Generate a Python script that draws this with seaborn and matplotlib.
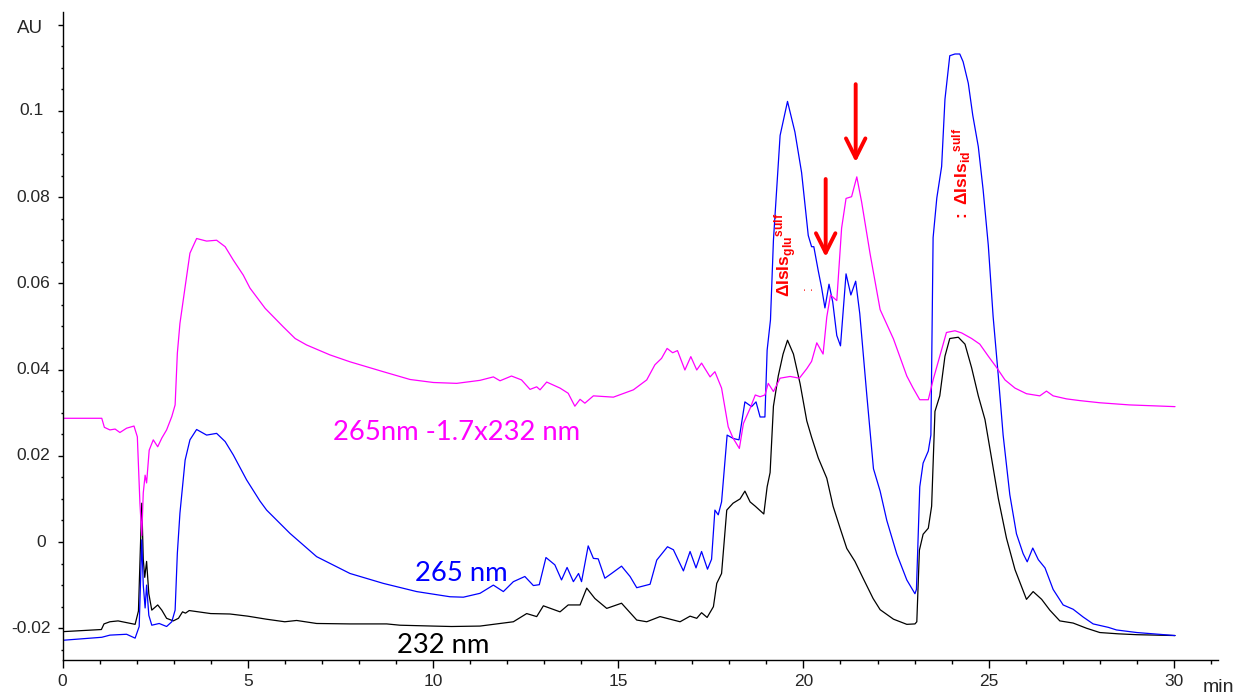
import numpy as np
import pandas as pd
import matplotlib
matplotlib.use("Agg")
import matplotlib.pyplot as plt
import matplotlib.transforms as mtransforms
import seaborn as sns
from matplotlib.ticker import MultipleLocator, FixedLocator, FixedFormatter, NullFormatter

sns.set_style("ticks")
plt.rcParams['font.family'] = ['Liberation Sans', 'DejaVu Sans']
plt.rcParams['mathtext.fontset'] = 'custom'
plt.rcParams['mathtext.rm'] = 'Liberation Sans'
plt.rcParams['mathtext.bf'] = 'Liberation Sans:bold'
plt.rcParams['mathtext.it'] = 'Liberation Sans:italic'

# ---- data: (time [min], absorbance [AU]) ----
trace_232 = [
    (0, -0.0208), (1.05, -0.0203), (1.12, -0.0190), (1.28, -0.0185), (1.5, -0.0183),
    (1.73, -0.0187), (1.96, -0.0191), (2.05, -0.0160), (2.1, -0.0020), (2.14, 0.0090),
    (2.18, -0.0040), (2.22, -0.0082), (2.27, -0.0045), (2.33, -0.0120), (2.41, -0.0158),
    (2.57, -0.0146), (2.68, -0.0158), (2.81, -0.0177), (2.99, -0.0183), (3.13, -0.0177),
    (3.24, -0.0162), (3.32, -0.0165), (3.42, -0.0159), (4.0, -0.0166), (4.52, -0.0167),
    (5.0, -0.0172), (5.5, -0.0179), (6.0, -0.0185), (6.32, -0.0182), (6.86, -0.0189),
    (7.76, -0.0190), (8.75, -0.0190), (9.11, -0.0193), (10.0, -0.0195), (10.5, -0.0196),
    (11.27, -0.0195), (12.17, -0.0185), (12.53, -0.0166), (12.8, -0.0173), (12.98, -0.0148),
    (13.43, -0.0162), (13.65, -0.0146), (13.97, -0.0146), (14.15, -0.0107), (14.37, -0.0131),
    (14.69, -0.0154), (15.09, -0.0142), (15.5, -0.0181), (15.77, -0.0185), (16.13, -0.0173),
    (16.67, -0.0185), (16.94, -0.0172), (17.12, -0.0177), (17.25, -0.0164), (17.4, -0.0175),
    (17.57, -0.0150), (17.66, -0.0096), (17.79, -0.0073), (17.93, 0.0074), (18.1, 0.0090),
    (18.29, 0.0100), (18.42, 0.0118), (18.56, 0.0093), (18.7, 0.0083), (18.93, 0.0065),
    (19.02, 0.0128), (19.1, 0.0161), (19.19, 0.0315), (19.32, 0.0385), (19.45, 0.0436),
    (19.57, 0.0468), (19.73, 0.0436), (19.91, 0.0367), (20.09, 0.0281), (20.22, 0.0243),
    (20.4, 0.0195), (20.63, 0.0148), (20.8, 0.0083), (20.99, 0.0032), (21.17, -0.0015),
    (21.39, -0.0045), (21.61, -0.0084), (21.88, -0.0131), (22.07, -0.0157), (22.43, -0.0179),
    (22.79, -0.0191), (23.01, -0.0190), (23.06, -0.0185), (23.13, -0.0019), (23.23, 0.0018),
    (23.37, 0.0032), (23.46, 0.0083), (23.55, 0.0303), (23.68, 0.0339), (23.82, 0.0431),
    (23.95, 0.0472), (24.18, 0.0475), (24.36, 0.0459), (24.54, 0.0404), (24.72, 0.0339),
    (24.9, 0.0284), (25.08, 0.0193), (25.26, 0.0101), (25.48, 0.0009), (25.71, -0.0064),
    (26.02, -0.0133), (26.2, -0.0115), (26.43, -0.0133), (26.65, -0.0158), (26.92, -0.0183),
    (27.28, -0.0188), (27.64, -0.0200), (28.0, -0.0210), (28.5, -0.0213), (29.0, -0.0215),
    (30.03, -0.0217),
]

trace_265 = [
    (0, -0.0228), (1.06, -0.0221), (1.28, -0.0216), (1.73, -0.0214), (1.96, -0.0223),
    (2.07, -0.0196), (2.11, -0.0080), (2.14, 0.0005), (2.18, -0.0100), (2.23, -0.0153),
    (2.27, -0.0100), (2.33, -0.0170), (2.41, -0.0193), (2.61, -0.0189), (2.81, -0.0196),
    (2.95, -0.0185), (3.04, -0.0158), (3.1, -0.0026), (3.17, 0.0067), (3.31, 0.0190),
    (3.44, 0.0237), (3.62, 0.0261), (3.89, 0.0248), (4.16, 0.0252), (4.39, 0.0233),
    (4.61, 0.0202), (4.97, 0.0144), (5.33, 0.0095), (5.51, 0.0074), (6.14, 0.0020),
    (6.86, -0.0034), (7.76, -0.0073), (8.66, -0.0096), (9.56, -0.0115), (10.46, -0.0127),
    (10.82, -0.0128), (11.27, -0.0119), (11.63, -0.0100), (11.9, -0.0115), (12.17, -0.0092),
    (12.48, -0.0080), (12.71, -0.0101), (12.87, -0.0099), (13.05, -0.0036), (13.29, -0.0053),
    (13.47, -0.0088), (13.62, -0.0059), (13.79, -0.0092), (13.93, -0.0073), (14.01, -0.0092),
    (14.19, -0.0009), (14.33, -0.0038), (14.46, -0.0039), (14.64, -0.0084), (14.82, -0.0073),
    (15.09, -0.0056), (15.32, -0.0080), (15.5, -0.0106), (15.86, -0.0098), (16.04, -0.0042),
    (16.33, -0.0011), (16.49, -0.0018), (16.76, -0.0067), (16.94, -0.0022), (17.1, -0.0060),
    (17.25, -0.0022), (17.41, -0.0063), (17.52, -0.0040), (17.61, 0.0074), (17.7, 0.0063),
    (17.79, 0.0093), (17.94, 0.0248), (18.11, 0.0240), (18.26, 0.0237), (18.42, 0.0325),
    (18.6, 0.0314), (18.72, 0.0325), (18.83, 0.0290), (18.96, 0.0290), (19.02, 0.0445),
    (19.11, 0.0515), (19.19, 0.0700), (19.37, 0.0943), (19.57, 0.1022), (19.77, 0.0951),
    (19.95, 0.0857), (20.13, 0.0711), (20.22, 0.0685), (20.28, 0.0685), (20.4, 0.0629),
    (20.49, 0.0590), (20.58, 0.0543), (20.69, 0.0598), (20.79, 0.0557), (20.9, 0.0479),
    (21.0, 0.0455), (21.15, 0.0622), (21.28, 0.0573), (21.41, 0.0605), (21.52, 0.0530),
    (21.71, 0.0341), (21.89, 0.0170), (22.07, 0.0118), (22.25, 0.0050), (22.52, -0.0028),
    (22.79, -0.0088), (23.01, -0.0120), (23.05, -0.0110), (23.14, 0.0128), (23.23, 0.0183),
    (23.37, 0.0211), (23.44, 0.0248), (23.5, 0.0706), (23.6, 0.0798), (23.73, 0.0871),
    (23.82, 0.1027), (23.95, 0.1128), (24.09, 0.1132), (24.22, 0.1132), (24.31, 0.1114),
    (24.45, 0.1064), (24.57, 0.0990), (24.72, 0.0917), (24.85, 0.0817), (24.99, 0.0688),
    (25.12, 0.0523), (25.26, 0.0385), (25.39, 0.0248), (25.57, 0.0110), (25.75, 0.0019),
    (25.93, -0.0027), (26.04, -0.0046), (26.19, -0.0014), (26.34, -0.0041), (26.52, -0.0060),
    (26.74, -0.0110), (27.01, -0.0146), (27.28, -0.0156), (27.55, -0.0174), (27.82, -0.0190),
    (28.23, -0.0198), (28.45, -0.0204), (29.0, -0.0210), (30.03, -0.0217),
]

trace_diff = [
    (0, 0.0287), (1.06, 0.0287), (1.13, 0.0266), (1.28, 0.0260), (1.42, 0.0262),
    (1.55, 0.0254), (1.73, 0.0264), (1.93, 0.0269), (2.02, 0.0244), (2.09, 0.0090),
    (2.14, 0.0015), (2.18, 0.0114), (2.23, 0.0155), (2.27, 0.0137), (2.34, 0.0213),
    (2.45, 0.0237), (2.57, 0.0221), (2.68, 0.0241), (2.81, 0.0260), (2.95, 0.0291),
    (3.04, 0.0318), (3.1, 0.0438), (3.17, 0.0507), (3.31, 0.0592), (3.44, 0.0670),
    (3.62, 0.0704), (3.89, 0.0698), (4.16, 0.0700), (4.39, 0.0685), (4.61, 0.0654),
    (4.88, 0.0619), (5.06, 0.0589), (5.47, 0.0542), (5.96, 0.0499), (6.28, 0.0472),
    (6.59, 0.0457), (7.22, 0.0434), (7.76, 0.0418), (8.66, 0.0395), (9.38, 0.0377),
    (10.01, 0.0370), (10.64, 0.0368), (11.27, 0.0375), (11.63, 0.0383), (11.81, 0.0374),
    (12.12, 0.0385), (12.39, 0.0376), (12.62, 0.0354), (12.8, 0.0360), (12.89, 0.0353),
    (13.07, 0.0371), (13.43, 0.0357), (13.65, 0.0345), (13.83, 0.0315), (13.97, 0.0331),
    (14.1, 0.0322), (14.33, 0.0339), (14.87, 0.0336), (15.41, 0.0353), (15.77, 0.0376),
    (15.99, 0.0411), (16.17, 0.0426), (16.32, 0.0449), (16.47, 0.0439), (16.6, 0.0444),
    (16.8, 0.0399), (16.96, 0.0430), (17.12, 0.0399), (17.25, 0.0415), (17.48, 0.0383),
    (17.61, 0.0395), (17.79, 0.0357), (17.97, 0.0267), (18.1, 0.0241), (18.27, 0.0217),
    (18.38, 0.0275), (18.56, 0.0310), (18.7, 0.0341), (18.83, 0.0337), (18.96, 0.0341),
    (19.05, 0.0368), (19.19, 0.0349), (19.37, 0.0380), (19.64, 0.0384), (19.89, 0.0380),
    (20.09, 0.0402), (20.22, 0.0419), (20.36, 0.0462), (20.53, 0.0436), (20.63, 0.0522),
    (20.73, 0.0573), (20.9, 0.0560), (21.03, 0.0728), (21.15, 0.0797), (21.3, 0.0801),
    (21.44, 0.0847), (21.57, 0.0789), (21.8, 0.0668), (22.07, 0.0539), (22.43, 0.0471),
    (22.79, 0.0385), (22.96, 0.0357), (23.14, 0.0330), (23.37, 0.0330), (23.5, 0.0376),
    (23.68, 0.0431), (23.86, 0.0486), (24.09, 0.0490), (24.27, 0.0485), (24.54, 0.0472),
    (24.76, 0.0459), (24.99, 0.0431), (25.22, 0.0404), (25.44, 0.0376), (25.71, 0.0357),
    (26.02, 0.0344), (26.38, 0.0339), (26.56, 0.0350), (26.74, 0.0339), (27.1, 0.0332),
    (27.46, 0.0328), (28.0, 0.0323), (28.8, 0.0318), (30.03, 0.0314),
]

y_tick_values = [-0.02, 0.0, 0.02, 0.04, 0.06, 0.08, 0.10, 0.12]
y_tick_labels = ['-0.02', '0', '0.02', '0.04', '0.06', '0.08', '0.1', 'AU']
x_tick_values = [0, 5, 10, 15, 20, 25, 30]
x_tick_labels = ['0', '5', '10', '15', '20', '25', '30']

# arrows (x, y_start, y_tip)
arrows = [(20.6, 0.0842, 0.0661), (21.41, 0.1062, 0.0881)]

series = [
    ("232 nm", trace_232, "black"),
    ("265 nm", trace_265, "#0000FF"),
    ("265nm -1.7x232 nm", trace_diff, "#FF00FF"),
]

W, H = 1241, 696
fig = plt.figure(figsize=(W / 100, H / 100), dpi=100)
ax = fig.add_axes([62.5 / W, 36 / H, (1218 - 62.5) / W, (660 - 12) / H])

for name, pts, col in series:
    df = pd.DataFrame(pts, columns=["t", "v"])
    sns.lineplot(data=df, x="t", y="v", color=col, lw=0.9, ax=ax,
                 estimator=None, sort=False, legend=False)

ax.set_xlim(0, 31.19)
ax.set_ylim(-0.02737, 0.12294)
ax.set_xlabel("")
ax.set_ylabel("")
sns.despine(ax=ax)
for s in ["left", "bottom"]:
    ax.spines[s].set_linewidth(1.0)
    ax.spines[s].set_color("black")

ax.xaxis.set_major_locator(FixedLocator(x_tick_values))
ax.xaxis.set_major_formatter(FixedFormatter(x_tick_labels))
ax.xaxis.set_minor_locator(MultipleLocator(1))
ax.yaxis.set_major_locator(FixedLocator(y_tick_values))
ax.yaxis.set_major_formatter(NullFormatter())
ax.yaxis.set_minor_locator(MultipleLocator(0.005))
ax.tick_params(axis="x", which="major", length=6, width=1, pad=4, labelsize=12.5, color="black")
ax.tick_params(axis="x", which="minor", length=3, width=1, color="black")
ax.tick_params(axis="y", which="major", length=3.4, width=1, color="black")
ax.tick_params(axis="y", which="minor", length=1.7, width=1, color="black")

# y tick labels (placed like the original software does)
ylab_trans = mtransforms.blended_transform_factory(fig.transFigure, ax.transData)
ylab_centers = {'-0.02': 31.5, '0': 41, '0.02': 33, '0.04': 33, '0.06': 33,
                '0.08': 33, '0.1': 31.5, 'AU': 30}
for val, lab in zip(y_tick_values, y_tick_labels):
    dy = -0.0008 if lab == 'AU' else 0.0
    ax.text(ylab_centers[lab] / W, val + dy, lab, transform=ylab_trans,
            fontsize=13.5 if lab == 'AU' else 12.5, ha="center", va="center")

fig.text(1203 / W, 1 - 687 / H, "min", fontsize=14, ha="left", va="center")

# series labels
lab_font = ["Lato", "DejaVu Sans"]
ax.text(7.3, 0.0253, "265nm -1.7x232 nm", color="#FF00FF", fontsize=19.7,
        family=lab_font, ha="left", va="center")
ax.text(9.51, -0.0074, "265 nm", color="#0000FF", fontsize=19.7,
        family=lab_font, ha="left", va="center")
ax.text(9.03, -0.0239, "232 nm", color="black", fontsize=19.7,
        family=lab_font, ha="left", va="center")

# peak annotations
ax.text(19.53, 0.0568, r"$\mathbf{\Delta IsIs}_{\mathbf{glu}}{}^{\mathbf{sulf}}$", color="red",
        fontsize=12.5, rotation=90, ha="center", va="bottom")
ax.text(20.12, 0.0590, ":", color="red", fontsize=10, rotation=90,
        ha="center", va="center")
ax.text(24.28, 0.0745, r"$\mathbf{:\ \Delta IsIs}_{\mathbf{id}}{}^{\mathbf{sulf}}$", color="red",
        fontsize=12.5, rotation=90, ha="center", va="bottom")

for x, y0, y1 in arrows:
    ax.annotate("", xy=(x, y1), xytext=(x, y0),
                arrowprops=dict(arrowstyle="->,head_length=0.7,head_width=0.35",
                                color="red", lw=2.8, shrinkA=0, shrinkB=0,
                                mutation_scale=20))

fig.savefig("out.png", dpi=100)
